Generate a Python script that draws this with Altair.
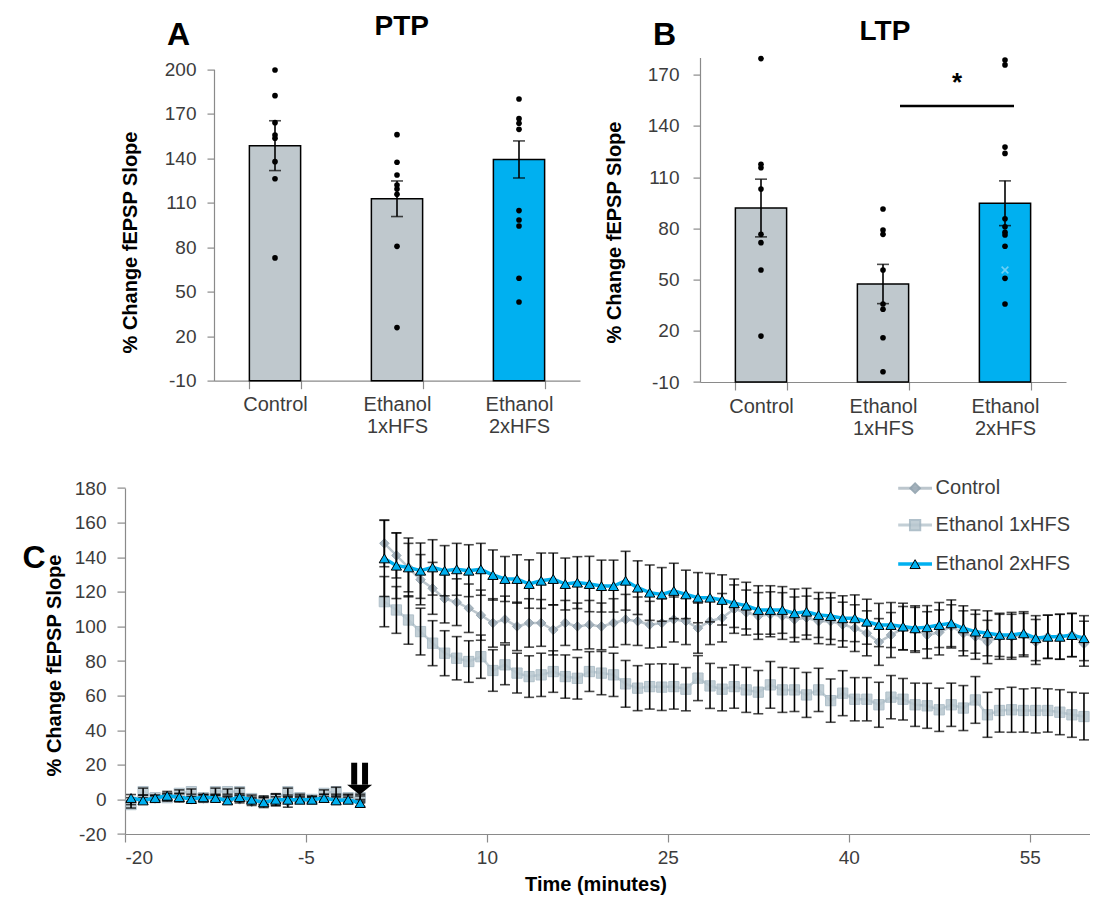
import altair as alt
import pandas as pd

FONT = "Liberation Sans"
AXIS_GREY = "#8a8a8a"
LABEL_GREY = "#3c3c3c"
BAR_GREY = "#bfc8cd"
BLUE = "#00b0f0"

groups = ["Control", "Ethanol 1xHFS", "Ethanol 2xHFS"]
bar_colors = [BAR_GREY, BAR_GREY, BLUE]

# ---------------- Panel A : PTP ----------------
ptp_mean = [148.5, 112.7, 139.2]
ptp_sem = [16.8, 12.0, 12.5]
ptp_ctrl = [199.5, 182.2, 164.0, 155.7, 153.5, 137.7, 126.2, 72.8]
ptp_1x = [155.9, 137.3, 128.7, 122.0, 119.3, 115.7, 80.6, 25.8]
ptp_2x = [180.0, 166.7, 163.6, 159.5, 104.7, 98.4, 94.3, 59.1, 43.1]

# ---------------- Panel B : LTP ----------------
ltp_mean = [91.9, 47.4, 94.7]
ltp_sem = [16.9, 11.5, 13.1]
ltp_ctrl = [179.4, 117.5, 115.5, 103.0, 76.5, 71.6, 55.6, 16.9]
ltp_1x = [91.3, 79.0, 76.5, 55.6, 35.7, 32.6, 15.9, -4.0]
ltp_2x = [178.6, 175.7, 127.6, 123.9, 85.6, 80.9, 77.7, 76.1, 69.5, 50.7, 35.7]
ltp_2x_cross = [55.6]
sig_pair = ["Ethanol 1xHFS", "Ethanol 2xHFS"]
sig_y = 151.7
star_y = 165.0

# ---------------- Panel C : time course ----------------
base_time = [-19.5, -18.5, -17.5, -16.5, -15.5, -14.5, -13.5, -12.5, -11.5, -10.5,
             -9.5, -8.5, -7.5, -6.5, -5.5, -4.5, -3.5, -2.5, -1.5, -0.5]
post_time = [1.5, 2.5, 3.5, 4.5, 5.5, 6.5, 7.5, 8.5, 9.5, 10.5,
             11.5, 12.5, 13.5, 14.5, 15.5, 16.5, 17.5, 18.5, 19.5, 20.5,
             21.5, 22.5, 23.5, 24.5, 25.5, 26.5, 27.5, 28.5, 29.5, 30.5,
             31.5, 32.5, 33.5, 34.5, 35.5, 36.5, 37.5, 38.5, 39.5, 40.5,
             41.5, 42.5, 43.5, 44.5, 45.5, 46.5, 47.5, 48.5, 49.5, 50.5,
             51.5, 52.5, 53.5, 54.5, 55.5, 56.5, 57.5, 58.5, 59.5]

ctrl_base = [-1.0, 0.5, 0.5, 1.5, 1.0, 0.0, 0.5, 1.0, 0.5, 0.0,
             -1.5, -0.5, -1.0, -1.5, 0.0, 0.0, 1.0, 0.5, 0.5, 0.0]
ctrl_base_sem = [2.0, 2.0, 1.5, 2.0, 2.5, 1.5, 2.0, 2.0, 1.5, 2.0,
                 2.0, 2.5, 2.5, 3.0, 2.0, 2.0, 2.0, 2.5, 2.0, 2.0]
x1_base = [-3.0, 4.5, 1.0, 1.0, 3.5, 4.5, 1.0, 4.5, 4.5, 4.5,
           0.5, -1.0, 0.5, 4.5, 1.0, 0.0, 3.5, 4.5, 1.0, 1.0]
x1_base_sem = [2.0, 2.0, 1.5, 2.0, 2.0, 1.5, 2.0, 2.0, 1.5, 2.0,
               2.0, 2.0, 2.5, 2.0, 2.0, 1.5, 2.0, 2.5, 2.0, 2.0]
x2_base = [0.8, -0.6, 0.8, 2.1, 1.3, 0.2, 1.2, 0.8, -0.6, 1.3,
           -0.2, -1.7, -0.2, -0.2, -0.2, -0.2, 0.8, -0.6, -0.2, -2.1]
x2_base_sem = [2.0, 1.5, 1.5, 2.5, 2.0, 1.5, 1.5, 1.5, 2.0, 2.0,
               1.5, 3.0, 3.5, 1.5, 1.5, 1.5, 2.0, 2.0, 1.5, 2.0]

ctrl_post = [148.0, 141.0, 134.0, 127.0, 122.0, 116.0, 114.0, 110.5, 106.5, 102.0,
             104.0, 100.0, 102.0, 102.0, 98.0, 102.0, 100.0, 101.0, 100.0, 102.0,
             104.0, 103.0, 101.0, 102.0, 104.0, 103.0, 99.0, 103.0, 105.0, 110.0,
             108.0, 106.0, 107.0, 106.0, 104.0, 105.0, 103.0, 103.0, 101.0, 99.0,
             96.0, 91.0, 95.0, 99.0, 98.0, 95.0, 96.5, 100.0, 96.0, 94.0,
             91.0, 94.0, 94.0, 95.0, 91.0, 94.0, 94.0, 95.0, 90.0]
ctrl_post_sem = [13.5, 13.0, 14.0, 14.5, 15.0, 14.0, 13.5, 14.0, 14.5, 14.0,
                 13.5, 14.0, 14.0, 13.5, 14.5, 13.0, 13.5, 14.0, 13.5, 14.0,
                 14.5, 14.0, 13.5, 14.0, 13.0, 13.5, 14.5, 13.5, 14.0, 14.0,
                 13.0, 13.5, 13.0, 13.5, 13.0, 12.5, 13.0, 13.5, 13.0, 13.5,
                 13.0, 13.5, 13.0, 12.5, 13.0, 13.5, 13.0, 12.5, 13.0, 13.0,
                 12.5, 13.0, 13.0, 12.5, 13.0, 12.5, 13.0, 12.5, 13.0]
x1_post = [114.3, 109.5, 103.7, 97.0, 90.3, 84.5, 81.6, 79.7, 82.5, 74.5,
           77.8, 73.0, 71.0, 72.0, 73.9, 71.0, 70.0, 73.9, 73.0, 72.0,
           66.8, 64.3, 65.2, 64.9, 65.2, 63.7, 70.1, 65.6, 63.7, 65.2,
           63.3, 62.0, 66.2, 63.3, 63.3, 60.4, 63.3, 57.1, 61.4, 57.9,
           57.9, 54.7, 59.1, 57.9, 54.7, 54.1, 51.8, 54.7, 52.8, 57.5,
           48.9, 51.4, 51.8, 51.4, 51.4, 51.4, 50.4, 48.9, 47.9]
x1_post_sem = [14.5, 13.5, 14.0, 13.5, 13.0, 13.0, 12.5, 12.0, 12.5, 12.0,
               11.5, 11.5, 12.0, 12.5, 12.0, 12.5, 12.0, 11.5, 12.5, 12.5,
               13.5, 13.0, 13.0, 13.5, 13.0, 12.5, 13.0, 13.0, 12.5, 12.5,
               13.0, 12.5, 13.5, 13.0, 12.5, 13.0, 12.5, 12.5, 13.0, 12.5,
               12.5, 13.0, 12.5, 12.0, 12.5, 13.0, 12.5, 12.5, 13.0, 13.5,
               13.0, 12.5, 13.0, 12.5, 13.0, 12.5, 13.0, 13.0, 13.5]
x2_post = [139.3, 135.1, 134.1, 132.2, 134.1, 132.2, 133.0, 132.2, 133.0, 129.7,
           127.4, 127.4, 124.5, 126.4, 127.4, 124.5, 125.3, 124.5, 123.3, 123.3,
           126.4, 122.4, 119.5, 118.5, 120.5, 118.5, 116.6, 116.6, 115.3, 113.4,
           112.0, 109.5, 109.5, 109.5, 107.6, 108.5, 106.6, 106.0, 104.7, 104.7,
           102.7, 100.8, 100.8, 99.9, 98.9, 99.5, 100.8, 101.8, 98.9, 97.0,
           96.0, 95.1, 95.1, 96.0, 93.2, 94.0, 94.0, 95.0, 93.2]
x2_post_sem = [22.0, 19.0, 17.0, 16.0, 16.0, 14.5, 15.0, 15.0, 15.0, 14.5,
               13.0, 14.0, 14.0, 16.0, 15.0, 15.0, 15.0, 16.0, 15.0, 15.0,
               17.0, 15.5, 16.0, 15.5, 16.0, 14.0, 14.5, 14.0, 14.5, 14.0,
               13.5, 14.0, 14.0, 13.5, 14.0, 13.5, 13.0, 13.5, 13.0, 13.5,
               13.0, 12.5, 13.0, 13.5, 13.0, 12.5, 13.0, 13.5, 13.0, 12.5,
               13.0, 12.5, 13.0, 12.5, 13.0, 12.5, 13.0, 12.5, 13.0]

series_names = ["Control", "Ethanol 1xHFS", "Ethanol 2xHFS"]

rows = []
for name, bv, bs, pv, ps in [
    ("Control", ctrl_base, ctrl_base_sem, ctrl_post, ctrl_post_sem),
    ("Ethanol 1xHFS", x1_base, x1_base_sem, x1_post, x1_post_sem),
    ("Ethanol 2xHFS", x2_base, x2_base_sem, x2_post, x2_post_sem),
]:
    for t, v, s in zip(base_time, bv, bs):
        rows.append({"series": name, "phase": "base", "t": t, "v": v, "lo": v - s, "hi": v + s})
    for t, v, s in zip(post_time, pv, ps):
        rows.append({"series": name, "phase": "post", "t": t, "v": v, "lo": v - s, "hi": v + s})
ts = pd.DataFrame(rows)

# legend rows placed in data coordinates inside panel C
legend_y = [179.9, 158.6, 136.0]
legend_t1, legend_t2, legend_tm, legend_tt = 44.1, 46.9, 45.5, 47.2
legend_df = pd.DataFrame({"series": series_names, "y": legend_y,
                          "t1": [legend_t1] * 3, "t2": [legend_t2] * 3,
                          "tm": [legend_tm] * 3, "tt": [legend_tt] * 3})

# HFS double arrow (in data coordinates)
arrow_t = [-1.0, -0.1]
arrow_top = 21.2
arrow_bottom = 8.5
arrow_head_t = -0.55
arrow_head_y = 5.6

# ---------------- layout (one shared frame, panels placed by scale ranges) ----------------
W, H = 965, 776.4                     # frame: page x 125..1090, y 57.6..834
A_X, A_Y = [89, 455], [323.1, 11.7]
B_X, B_Y = [575, 941], [324.4, 0]
C_X, C_Y = [0, W], [H, H - 346]

one = pd.DataFrame({"k": [0]})
NUM_LABEL = "datum.value + ''"


def txt(s, x, y, size, weight="bold", align="center", baseline="alphabetic"):
    return alt.Chart(one).mark_text(text=s, font=FONT, fontSize=size, fontWeight=weight,
                                    align=align, baseline=baseline, color="black").encode(
        x=alt.value(x), y=alt.value(y))


def bar_panel(means, sems, pts, ydom, yvals, xr, yr, lab_pad, ytx, yty, extra=None):
    bdf = pd.DataFrame({"group": groups, "mean": means,
                        "lo": [m - s for m, s in zip(means, sems)],
                        "hi": [m + s for m, s in zip(means, sems)]})
    pdf = pd.DataFrame({"group": [g for g, vals in zip(groups, pts) for _ in vals],
                        "val": [v for vals in pts for v in vals]})
    xs = alt.Scale(domain=groups, paddingInner=0.58, paddingOuter=0.29, range=xr)
    xa = alt.Axis(title=None, orient="bottom", offset=-(H - yr[0]), labelAngle=0,
                  labelExpr="split(datum.label, ' ')", tickBand="extent", tickSize=8,
                  labelPadding=6, labelFontSize=20, labelLineHeight=22)

    def xdef(field):
        return alt.X(field, sort=groups, scale=xs, axis=xa)

    ys = alt.Scale(domain=ydom, nice=False, zero=False, range=yr)
    ya = alt.Axis(values=yvals, orient="left", offset=-xr[0], title="% Change fEPSP Slope",
                  titleX=ytx, titleY=yty, titleAngle=270, titleAlign="center",
                  titleBaseline="middle", labelPadding=lab_pad, tickSize=7, labelFontSize=19,
                  labelExpr=NUM_LABEL)

    bars = alt.Chart(bdf).mark_bar(stroke="black", strokeWidth=1.5).encode(
        x=xdef("group:N"), y=alt.Y("mean:Q", scale=ys, axis=ya), y2=alt.datum(ydom[0]),
        color=alt.Color("group:N", scale=alt.Scale(domain=groups, range=bar_colors), legend=None))
    err = alt.Chart(bdf).mark_errorbar(ticks={"size": 12, "thickness": 1.6}, thickness=1.6,
                                       color="black").encode(
        x=xdef("group:N"), y=alt.Y("lo:Q", scale=ys, axis=ya), y2="hi:Q")
    dots = alt.Chart(pdf).mark_circle(size=32, color="black", opacity=1).encode(
        x=xdef("group:N"), y=alt.Y("val:Q", scale=ys, axis=ya))
    layers = [bars, err, dots]
    if extra is not None:
        layers += extra(xdef, ys, ya)
    return alt.layer(*layers)


def ltp_extra(xdef, ys, ya):
    sig = pd.DataFrame({"a": [sig_pair[0]], "b": [sig_pair[1]], "y": [sig_y]})
    rule = alt.Chart(sig).mark_rule(color="black", strokeWidth=2.5, xOffset=17, x2Offset=9).encode(
        x=xdef("a:N"), x2="b:N", y=alt.Y("y:Q", scale=ys, axis=ya))
    star = alt.Chart(pd.DataFrame({"b": [sig_pair[1]], "y": [star_y]})).mark_text(
        text="*", font=FONT, fontSize=26, fontWeight="bold", dx=-48, baseline="middle",
        color="black").encode(x=xdef("b:N"), y=alt.Y("y:Q", scale=ys, axis=ya))
    cross = alt.Chart(pd.DataFrame({"b": [groups[2]], "y": ltp_2x_cross})).mark_point(
        shape="M-1,-1L1,1M-1,1L1,-1", size=45, filled=False, stroke="#6ccff5",
        strokeWidth=1.6, opacity=1).encode(x=xdef("b:N"), y=alt.Y("y:Q", scale=ys, axis=ya))
    return [rule, star, cross]


panelA = bar_panel(ptp_mean, ptp_sem, [ptp_ctrl, ptp_1x, ptp_2x], [-10, 200],
                   [-10, 20, 50, 80, 110, 140, 170, 200], A_X, A_Y, 11, -84, 184.4)
panelB = bar_panel(ltp_mean, ltp_sem, [ltp_ctrl, ltp_1x, ltp_2x], [-10, 180],
                   [-10, 20, 50, 80, 110, 140, 170], B_X, B_Y, 14, -86, 174.4, extra=ltp_extra)

# ---------------- Panel C ----------------
xsC = alt.Scale(domain=[-20, 60], nice=False, zero=False, range=C_X)
xaC = alt.Axis(values=[-20, -5, 10, 25, 40, 55], orient="bottom", title="Time (minutes)",
               titleX=470.5, titleY=56, titleBaseline="alphabetic", titleAlign="center",
               tickSize=8, labelPadding=6, labelFontSize=19, labelExpr=NUM_LABEL)
ysC = alt.Scale(domain=[-20, 180], nice=False, zero=False, range=C_Y)
yaC = alt.Axis(values=list(range(-20, 181, 20)), orient="left", title="% Change fEPSP Slope",
               titleX=-71, titleY=607.4, titleAngle=270, titleAlign="center",
               titleBaseline="middle", tickSize=8, labelPadding=11, labelFontSize=19,
               labelExpr=NUM_LABEL)


def cx(f):
    return alt.X(f, scale=xsC, axis=xaC)


def cy(f):
    return alt.Y(f, scale=ysC, axis=yaC)


base = alt.Chart(ts)


def sel(name):
    return base.transform_filter(alt.datum.series == name)


CTRL_LINE, CTRL_FILL, CTRL_STROKE = "#bcc6cd", "#9fadb8", "#91a2ae"
X1_LINE, X1_FILL, X1_STROKE = "#c3cfd6", "#b8c7cf", "#a3b6c1"
D_SIZE, S_SIZE, T_SIZE = 90, 105, 105

ctrl_line = sel("Control").mark_line(color=CTRL_LINE, strokeWidth=2.5).encode(
    x=cx("t:Q"), y=cy("v:Q"), detail="phase:N")
ctrl_pts = sel("Control").mark_point(shape="diamond", filled=True, size=D_SIZE, fill=CTRL_FILL,
                                     stroke=CTRL_STROKE, strokeWidth=1, opacity=0.9).encode(
    x=cx("t:Q"), y=cy("v:Q"))
x1_line = sel("Ethanol 1xHFS").mark_line(color=X1_LINE, strokeWidth=2.5).encode(
    x=cx("t:Q"), y=cy("v:Q"), detail="phase:N")
x1_pts = sel("Ethanol 1xHFS").mark_point(shape="square", filled=True, size=S_SIZE, fill=X1_FILL,
                                         stroke=X1_STROKE, strokeWidth=1, opacity=0.85).encode(
    x=cx("t:Q"), y=cy("v:Q"))
errC = base.mark_errorbar(ticks={"size": 10, "thickness": 1.6}, thickness=1.6, color="black").encode(
    x=cx("t:Q"), y=cy("lo:Q"), y2="hi:Q")
x2_line = sel("Ethanol 2xHFS").mark_line(color=BLUE, strokeWidth=3.5).encode(
    x=cx("t:Q"), y=cy("v:Q"), detail="phase:N")
x2_pts = sel("Ethanol 2xHFS").mark_point(shape="triangle-up", filled=True, size=T_SIZE, fill=BLUE,
                                         stroke="black", strokeWidth=1, opacity=1).encode(
    x=cx("t:Q"), y=cy("v:Q"))

leg = alt.Chart(legend_df)


def leg_sel(name):
    return leg.transform_filter(alt.datum.series == name)


leg_layers = [
    leg_sel("Control").mark_rule(strokeWidth=3, color=CTRL_LINE).encode(x=cx("t1:Q"), x2="t2:Q", y=cy("y:Q")),
    leg_sel("Ethanol 1xHFS").mark_rule(strokeWidth=3, color=X1_LINE).encode(x=cx("t1:Q"), x2="t2:Q", y=cy("y:Q")),
    leg_sel("Ethanol 2xHFS").mark_rule(strokeWidth=3.5, color=BLUE).encode(x=cx("t1:Q"), x2="t2:Q", y=cy("y:Q")),
    leg_sel("Control").mark_point(shape="diamond", filled=True, size=D_SIZE, fill=CTRL_FILL,
                                  stroke=CTRL_STROKE, opacity=0.9).encode(x=cx("tm:Q"), y=cy("y:Q")),
    leg_sel("Ethanol 1xHFS").mark_point(shape="square", filled=True, size=S_SIZE, fill=X1_FILL,
                                        stroke=X1_STROKE, opacity=0.85).encode(x=cx("tm:Q"), y=cy("y:Q")),
    leg_sel("Ethanol 2xHFS").mark_point(shape="triangle-up", filled=True, size=T_SIZE, fill=BLUE,
                                        stroke="black", strokeWidth=1, opacity=1).encode(x=cx("tm:Q"), y=cy("y:Q")),
    leg.mark_text(align="left", baseline="middle", font=FONT, fontSize=20, color=LABEL_GREY).encode(
        x=cx("tt:Q"), y=cy("y:Q"), text="series:N"),
]

arr_df = pd.DataFrame({"t": arrow_t, "top": [arrow_top] * 2, "bot": [arrow_bottom] * 2})
arr_bars = alt.Chart(arr_df).mark_rule(color="black", strokeWidth=6).encode(
    x=cx("t:Q"), y=cy("top:Q"), y2="bot:Q")
arr_head = alt.Chart(pd.DataFrame({"t": [arrow_head_t], "y": [arrow_head_y]})).mark_point(
    shape="M-1,-0.4L1,-0.4L0,0.4Z", size=625, filled=True, color="black", opacity=1).encode(
    x=cx("t:Q"), y=cy("y:Q"))

panelC = alt.layer(ctrl_line, x1_line, ctrl_pts, x1_pts, errC, x2_line, x2_pts,
                   arr_bars, arr_head, *leg_layers)

labels = alt.layer(
    txt("A", 53.5, -12.6, 32), txt("PTP", 276.7, -22.6, 28),
    txt("B", 539.5, -12.6, 32), txt("LTP", 760, -17.6, 28),
    txt("C", -91, 510.4, 32),
)

chart = alt.layer(panelA, panelB, panelC, labels).resolve_scale(
    x="independent", y="independent", color="independent"
).properties(
    width=W, height=H,
    autosize=alt.AutoSizeParams(type="none"),
    padding={"left": 117, "top": 49.6, "right": 0, "bottom": 64},
).configure(font=FONT).configure_view(stroke=None).configure_axis(
    grid=False, domainColor=AXIS_GREY, tickColor=AXIS_GREY, domainWidth=1.2, tickWidth=1.2,
    labelColor=LABEL_GREY, labelFont=FONT, titleFont=FONT, titleFontSize=20,
    titleFontWeight="bold", titleColor="black"
)

chart.save("out.html", embed_options={"renderer": "svg", "actions": False})
